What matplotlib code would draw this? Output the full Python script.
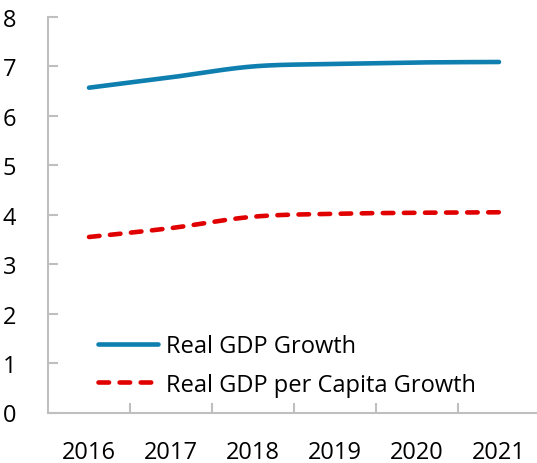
import numpy as np
import matplotlib
matplotlib.use("Agg")
import matplotlib.pyplot as plt

years = ["2016", "2017", "2018", "2019", "2020", "2021"]
gdp_growth = [6.57, 6.78, 7.00, 7.05, 7.08, 7.09]
gdp_pc_growth = [3.55, 3.73, 3.96, 4.02, 4.04, 4.05]

plt.rcParams['font.family'] = ['Open Sans', 'DejaVu Sans']


def smooth(y, n=40):
    """Catmull-Rom (Excel-like) smoothing of a series at x = 0..len-1."""
    y = np.asarray(y, float)
    x = np.arange(len(y), dtype=float)
    P = np.column_stack([x, y])
    P = np.vstack([P[0], P, P[-1]])
    out = []
    for i in range(1, len(P) - 2):
        p0, p1, p2, p3 = P[i - 1], P[i], P[i + 1], P[i + 2]
        c1 = p1 + (p2 - p0) / 6.0
        c2 = p2 - (p3 - p1) / 6.0
        t = np.linspace(0, 1, n)[:, None]
        seg = ((1 - t) ** 3) * p1 + 3 * ((1 - t) ** 2) * t * c1 + 3 * (1 - t) * t ** 2 * c2 + t ** 3 * p2
        out.append(seg if i == 1 else seg[1:])
    out = np.vstack(out)
    return out[:, 0], out[:, 1]


W, H = 537, 464
fig = plt.figure(figsize=(W / 100, H / 100), dpi=100)
left, right, bottom, top = 48, 537, 413.5, 18
ax = fig.add_axes([left / W, (H - bottom) / H, (right - left) / W, (bottom - top) / H])

cat_w = 82.0
ax.set_xlim(-0.5, -0.5 + (right - left) / cat_w)
ax.set_ylim(0, 8)

FS = 17

xs, ys = smooth(gdp_growth)
ax.plot(xs, ys, color='#0E7FAF', lw=3.3, solid_capstyle='round', label='Real GDP Growth')
xs, ys = smooth(gdp_pc_growth)
ax.plot(xs, ys, color='#E00000', lw=3.3, dashes=(2.3, 2.3), dash_capstyle='round',
        label='Real GDP per Capita Growth')

gray = '#BFBFBF'
for s in ['top', 'right']:
    ax.spines[s].set_visible(False)
for s in ['left', 'bottom']:
    ax.spines[s].set_color(gray)
    ax.spines[s].set_linewidth(1.5)

ax.set_yticks(range(0, 9))
ax.tick_params(axis='y', direction='in', length=7, width=1.5, color=gray, labelsize=FS, pad=23)
ax.set_xticks(range(len(years)))
ax.set_xticklabels(years)
ax.tick_params(axis='x', which='major', length=0, labelsize=FS, pad=20)
ax.set_xticks(np.arange(0.5, len(years) - 0.5, 1.0), minor=True)
ax.tick_params(axis='x', which='minor', direction='in', length=7, width=1.5, color=gray)

leg = ax.legend(loc='upper left', bbox_to_anchor=(98 / W, (H - 335) / H),
                bbox_transform=fig.transFigure, frameon=False, fontsize=FS,
                handlelength=2.55, handletextpad=0.35, borderpad=0, borderaxespad=0,
                labelspacing=0.62)

fig.savefig('out.png', dpi=100)
